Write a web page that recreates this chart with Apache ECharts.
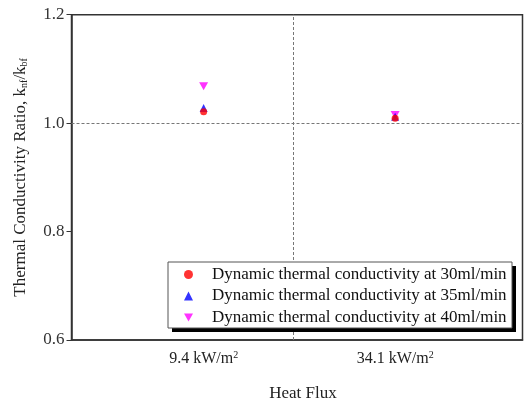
<!DOCTYPE html>
<html>
<head>
<meta charset="utf-8">
<script src="https://cdn.jsdelivr.net/npm/echarts@6/dist/echarts.min.js"></script>
<style>
  html, body { margin: 0; padding: 0; background: #fff; }
  #chart { width: 524px; height: 405px; }
</style>
</head>
<body>
<div id="chart"></div>
<script>
// category positions on the x value axis
const positions = [1, 2];
const fluxLabels = ['9.4', '34.1'];
const seriesNames = [
  'Dynamic thermal conductivity at 30ml/min',
  'Dynamic thermal conductivity at 35ml/min',
  'Dynamic thermal conductivity at 40ml/min'
];
const flow30 = [1.021, 1.009];
const flow35 = [1.028, 1.012];
const flow40 = [1.068, 1.015];

const serif = '"Liberation Serif", "DejaVu Serif", serif';
const downTriangle = 'path://M0,0 L10,0 L5,9 Z';

const chart = echarts.init(document.getElementById('chart'));

function pairs(vals) {
  return positions.map((p, i) => [p, vals[i]]);
}

// legend frame with a hard drop shadow
const box = { x: 168, y: 262, w: 344, h: 66 };

const option = {
  animation: false,
  textStyle: { fontFamily: serif },
  grid: {
    left: 71.5, right: 1.5, top: 14.7, bottom: 65,
    outerBoundsMode: 'none',
    show: true, borderColor: '#333', borderWidth: 1.5
  },
  graphic: [
    {
      type: 'rect', z: 10, silent: true,
      shape: { x: box.x + 4, y: box.y + 4, width: box.w, height: box.h },
      style: { fill: '#000' }
    },
    {
      type: 'rect', z: 11, silent: true,
      shape: { x: box.x, y: box.y, width: box.w, height: box.h },
      style: { fill: '#fff', stroke: '#555', lineWidth: 1 }
    }
  ],
  legend: {
    z: 20,
    orient: 'vertical',
    left: box.x, top: box.y,
    itemWidth: 9, itemHeight: 9,
    itemGap: 4.5,
    padding: [4, 4, 2, 16],
    textStyle: { fontFamily: serif, fontSize: 17, lineHeight: 17, color: '#111', padding: [0, 0, 0, 14] },
    data: [
      { name: seriesNames[0], icon: 'circle' },
      { name: seriesNames[1], icon: 'triangle' },
      { name: seriesNames[2], icon: downTriangle }
    ]
  },
  xAxis: {
    type: 'value',
    min: 0.31, max: 2.665,
    name: 'Heat Flux',
    nameLocation: 'middle',
    nameGap: 45,
    nameTextStyle: { fontFamily: serif, fontSize: 17, color: '#222', padding: [0, 0, 0, 12] },
    axisLine: { show: true, lineStyle: { color: '#333', width: 1.5 } },
    axisTick: { show: false },
    splitLine: { show: false },
    axisLabel: {
      customValues: positions,
      margin: 10,
      fontFamily: serif, fontSize: 16, color: '#222',
      formatter: function (v) {
        const i = positions.indexOf(v);
        return i < 0 ? '' : '{b|' + fluxLabels[i] + ' kW/m}{s|2}';
      },
      rich: {
        b: { fontFamily: serif, fontSize: 16, color: '#222' },
        s: { fontFamily: serif, fontSize: 10, color: '#222', verticalAlign: 'top', padding: [0, 0, 7, 0] }
      }
    }
  },
  yAxis: {
    type: 'value',
    min: 0.6, max: 1.2, interval: 0.2,
    name: '{n|Thermal Conductivity Ratio, k}{sub|nf}{n|/k}{sub|bf}',
    nameLocation: 'middle',
    nameGap: 42,
    nameTextStyle: {
      rich: {
        n: { fontFamily: serif, fontSize: 17, color: '#222' },
        sub: { fontFamily: serif, fontSize: 10, color: '#222', verticalAlign: 'bottom', padding: [7, 0, 0, 0] }
      }
    },
    axisLine: { show: true, lineStyle: { color: '#333', width: 1.5 } },
    axisTick: { show: true, inside: false, length: 5, lineStyle: { color: '#333', width: 1 } },
    splitLine: { show: false },
    axisLabel: {
      margin: 7,
      fontFamily: serif, fontSize: 17, color: '#333',
      formatter: v => v.toFixed(1)
    }
  },
  series: [
    {
      name: seriesNames[0], type: 'scatter', symbol: 'circle', symbolSize: 7,
      itemStyle: { color: '#ff0000' }, data: pairs(flow30), z: 3,
      markLine: {
        silent: true, symbol: 'none', label: { show: false },
        lineStyle: { color: '#777', type: [3, 2], width: 1 },
        data: [{ yAxis: 1.0 }, { xAxis: 1.47 }]
      }
    },
    {
      name: seriesNames[1], type: 'scatter', symbol: 'triangle', symbolSize: 8,
      itemStyle: { color: '#0000ff' }, data: pairs(flow35), z: 2
    },
    {
      name: seriesNames[2], type: 'scatter', symbol: downTriangle, symbolSize: [9, 8],
      itemStyle: { color: '#ff00ff' }, data: pairs(flow40), z: 1
    }
  ]
};

chart.setOption(option);
</script>
</body>
</html>
